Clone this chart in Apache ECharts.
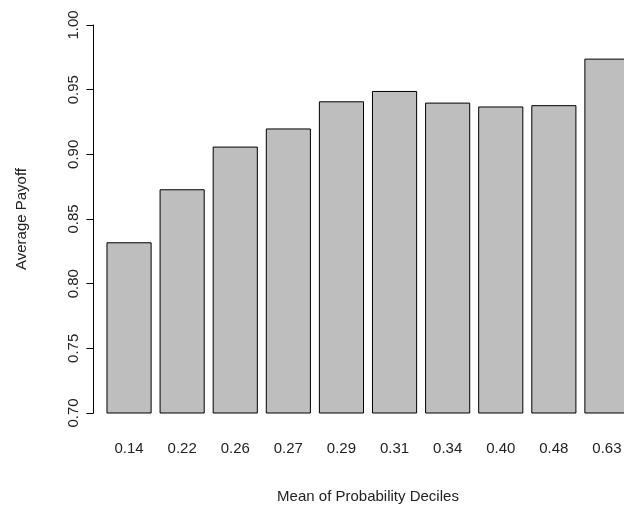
<!DOCTYPE html>
<html><head><meta charset="utf-8">
<script src="https://cdn.jsdelivr.net/npm/echarts@6/dist/echarts.min.js"></script>
<style>html,body{margin:0;background:#fff;overflow:hidden}#c{width:640px;height:513px}</style>
</head><body><div id="c"></div>
<script>
const deciles = ['0.14','0.22','0.26','0.27','0.29','0.31','0.34','0.40','0.48','0.63'];
const payoff = [0.832, 0.873, 0.906, 0.920, 0.941, 0.949, 0.940, 0.937, 0.938, 0.974];
const yTicks = [0.70, 0.75, 0.80, 0.85, 0.90, 0.95, 1.00];

const chart = echarts.init(document.getElementById('c'));
chart.setOption({
  animation: false,
  grid: { left: 102.5, width: 531, top: 25, height: 388 },
  xAxis: {
    type: 'category', data: deciles,
    axisLine: { show: false }, axisTick: { show: false },
    axisLabel: { margin: 28, fontFamily: 'Liberation Sans Narrow, Liberation Sans', fontSize: 15, color: '#222' },
    name: 'Mean of Probability Deciles', nameLocation: 'middle', nameGap: 76,
    nameTextStyle: { fontFamily: 'Liberation Sans Narrow, Liberation Sans', fontSize: 15, color: '#222', padding: [0, 0, 0, 0] }
  },
  yAxis: {
    type: 'value', min: 0.70, max: 1.00, interval: 0.05, offset: 9,
    splitLine: { show: false },
    axisLine: { show: true, lineStyle: { color: '#000' } },
    axisTick: { show: true, length: 7, lineStyle: { color: '#000' } },
    axisLabel: { rotate: 90, margin: 12, fontFamily: 'Liberation Sans', fontSize: 15, color: '#222',
      formatter: v => v.toFixed(2) },
    name: 'Average Payoff', nameLocation: 'middle', nameGap: 64,
    nameTextStyle: { fontFamily: 'Liberation Sans', fontSize: 15, color: '#222' }
  },
  series: [{
    type: 'bar', data: payoff, barCategoryGap: '15%',
    itemStyle: { color: '#bebebe', borderColor: '#000', borderWidth: 1 }
  }]
});
</script></body></html>
